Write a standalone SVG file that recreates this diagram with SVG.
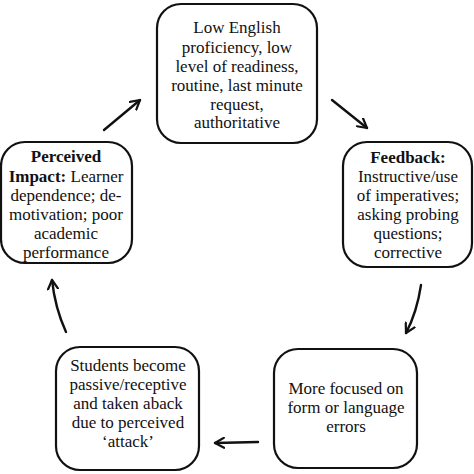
<svg xmlns="http://www.w3.org/2000/svg" width="474" height="474" viewBox="0 0 474 474">
<style>
.box{fill:#fff;stroke:#111;stroke-width:2.2}
.t{font-family:'Liberation Serif','DejaVu Serif','Times New Roman',serif;font-size:17px;fill:#111;text-anchor:middle}
.b{font-weight:bold}
.arr{fill:none;stroke:#111;stroke-width:2.4;stroke-linecap:round;stroke-linejoin:round}
</style>
<defs>
<marker id="ah" viewBox="0 0 12 12" refX="10" refY="6" markerWidth="12" markerHeight="12" markerUnits="userSpaceOnUse" orient="auto">
<path d="M1,1 L10,6 L1,11" fill="none" stroke="#111" stroke-width="2.2" stroke-linecap="round" stroke-linejoin="round"/>
</marker>
</defs>
<rect width="474" height="474" fill="#fff"/>
<g id="connectors">
<path class="arr" d="M104,130 L140,100" marker-end="url(#ah)"/>
<path class="arr" d="M332,100 L367,128" marker-end="url(#ah)"/>
<path class="arr" d="M421,285 Q417,312 406,333" marker-end="url(#ah)"/>
<path class="arr" d="M258,442 L215,443" marker-end="url(#ah)"/>
<path class="arr" d="M66,332 Q55,308 52,280" marker-end="url(#ah)"/>
</g>
<g id="node-top">
<rect class="box" x="157" y="4" width="160" height="139" rx="24"/>
<text class="t" x="237" y="33">Low English</text>
<text class="t" x="237" y="52.5">proficiency, low</text>
<text class="t" x="237" y="72">level of readiness,</text>
<text class="t" x="237" y="91">routine, last minute</text>
<text class="t" x="237" y="109.5">request,</text>
<text class="t" x="237" y="127.5">authoritative</text>
</g>
<g id="node-right">
<rect class="box" x="343" y="142" width="129" height="125" rx="24"/>
<text class="t b" x="408" y="163">Feedback:</text>
<text class="t" x="408" y="182">Instructive/use</text>
<text class="t" x="408" y="201">of imperatives;</text>
<text class="t" x="408" y="220">asking probing</text>
<text class="t" x="408" y="239">questions;</text>
<text class="t" x="408" y="257.5">corrective</text>
</g>
<g id="node-bottom-right">
<rect class="box" x="274" y="349" width="143" height="119" rx="24"/>
<text class="t" x="346" y="394">More focused on</text>
<text class="t" x="346" y="413">form or language</text>
<text class="t" x="346" y="431.5">errors</text>
</g>
<g id="node-bottom-left">
<rect class="box" x="56" y="347" width="143" height="123" rx="24"/>
<text class="t" x="128" y="371">Students become</text>
<text class="t" x="128" y="390">passive/receptive</text>
<text class="t" x="128" y="409">and taken aback</text>
<text class="t" x="128" y="428">due to perceived</text>
<text class="t" x="128" y="446.5">‘attack’</text>
</g>
<g id="node-left">
<rect class="box" x="1" y="142" width="131" height="121" rx="24"/>
<text class="t b" x="66" y="162">Perceived</text>
<text class="t" x="66" y="182"><tspan class="b">Impact:</tspan> Learner</text>
<text class="t" x="66" y="201">dependence; de-</text>
<text class="t" x="66" y="220">motivation; poor</text>
<text class="t" x="66" y="239">academic</text>
<text class="t" x="66" y="258">performance</text>
</g>
</svg>
